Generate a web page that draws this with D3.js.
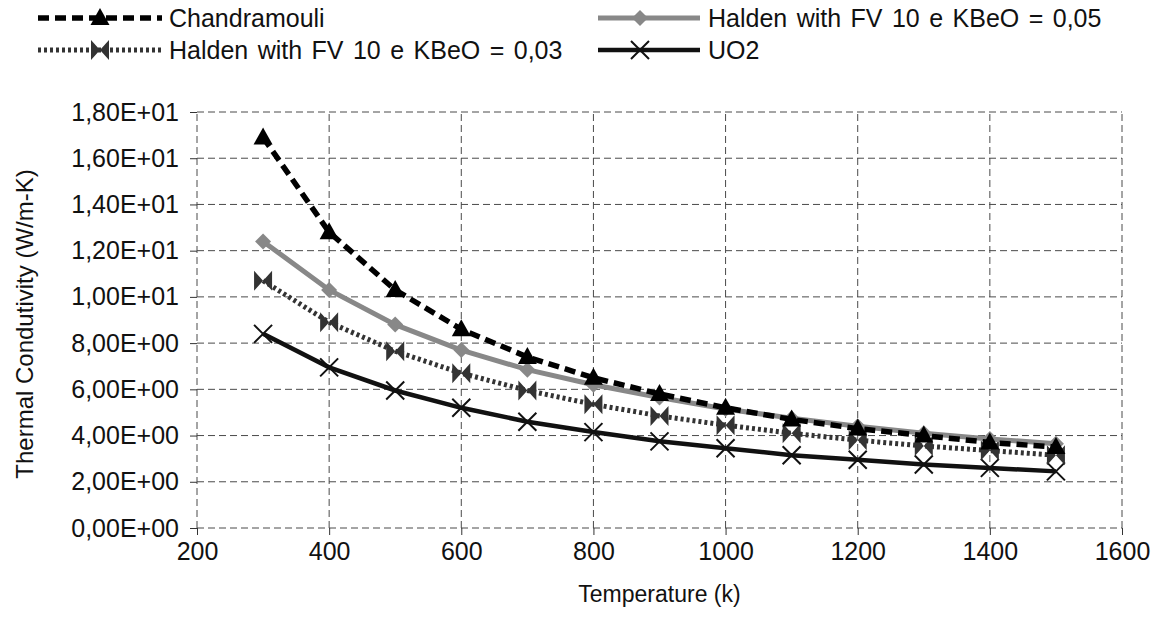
<!DOCTYPE html>
<html>
<head>
<meta charset="utf-8">
<script src="https://cdn.jsdelivr.net/npm/d3@7"></script>
<style>
  body { margin: 0; background: #fff; }
  svg text { font-family: "Liberation Sans", Arial, sans-serif; fill: #111; }
</style>
</head>
<body>
<svg id="chart" width="1160" height="628"></svg>
<script>
// Data
const temperatures = [300, 400, 500, 600, 700, 800, 900, 1000, 1100, 1200, 1300, 1400, 1500];
const chandramouli = [16.9, 12.8, 10.3, 8.6, 7.4, 6.5, 5.8, 5.2, 4.7, 4.3, 4.0, 3.7, 3.5];
const halden005 = [12.4, 10.3, 8.8, 7.7, 6.85, 6.2, 5.65, 5.15, 4.75, 4.4, 4.1, 3.85, 3.65];
const halden003 = [10.7, 8.9, 7.65, 6.7, 5.95, 5.35, 4.85, 4.45, 4.1, 3.8, 3.55, 3.35, 3.15];
const uo2 = [8.4, 6.95, 5.95, 5.2, 4.6, 4.15, 3.75, 3.45, 3.15, 2.95, 2.75, 2.6, 2.45];
const xTicks = [200, 400, 600, 800, 1000, 1200, 1400, 1600];
const yTicks = [0, 2, 4, 6, 8, 10, 12, 14, 16, 18];
const yTickLabels = ['0,00E+00', '2,00E+00', '4,00E+00', '6,00E+00', '8,00E+00',
  '1,00E+01', '1,20E+01', '1,40E+01', '1,60E+01', '1,80E+01'];

const series = [
  { name: 'Chandramouli', values: chandramouli, color: '#000', dash: '11,6', width: 5.5, marker: 'triangle' },
  { name: 'Halden with FV 10 e KBeO = 0,05', values: halden005, color: '#888', dash: null, width: 5, marker: 'diamond' },
  { name: 'Halden with FV 10 e KBeO = 0,03', values: halden003, color: '#333', dash: '3,3', width: 5, marker: 'bowtie' },
  { name: 'UO2', values: uo2, color: '#111', dash: null, width: 4.5, marker: 'cross' },
];

const FONT = '25px';
const svg = d3.select('#chart');
const x = d3.scaleLinear().domain([200, 1600]).range([197, 1122]);
const y = d3.scaleLinear().domain([0, 18]).range([528, 112]);

// grid (dashed, also forms the plot frame)
const grid = svg.append('g');
grid.selectAll('line.h').data(yTicks).join('line')
  .attr('x1', x(200)).attr('x2', x(1600))
  .attr('y1', d => y(d)).attr('y2', d => y(d))
  .style('stroke', '#4a4a4a').style('stroke-width', 1).style('stroke-dasharray', '7,4');
grid.selectAll('line.v').data(xTicks).join('line')
  .attr('x1', d => x(d)).attr('x2', d => x(d))
  .attr('y1', y(0)).attr('y2', y(18))
  .style('stroke', '#4a4a4a').style('stroke-width', 1).style('stroke-dasharray', '7,4');

// axes
const yAxis = svg.append('g').attr('transform', `translate(${x(200)},0)`)
  .call(d3.axisLeft(y).tickValues(yTicks).tickSize(7).tickPadding(11)
    .tickFormat((d, i) => yTickLabels[i]));
yAxis.select('.domain').remove();
yAxis.selectAll('text').style('font-size', FONT);
yAxis.selectAll('line').style('stroke', '#333');

const xAxis = svg.append('g').attr('transform', `translate(0,${y(0)})`)
  .call(d3.axisBottom(x).tickValues(xTicks).tickSize(7).tickPadding(7).tickFormat(d3.format('d')));
xAxis.select('.domain').remove();
xAxis.selectAll('text').style('font-size', FONT);
xAxis.selectAll('line').style('stroke', '#333');

svg.append('text')
  .attr('transform', `translate(24,${(y(0) + y(18)) / 2 + 4}) rotate(-90)`)
  .attr('text-anchor', 'middle').attr('dominant-baseline', 'central')
  .style('font-size', '24px')
  .text('Thermal Condutivity (W/m-K)');

svg.append('text')
  .attr('x', (x(200) + x(1600)) / 2).attr('y', 602)
  .attr('text-anchor', 'middle')
  .style('font-size', '23px')
  .text('Temperature (k)');

function markerPath(type) {
  if (type === 'triangle') return 'M0,-10L9.5,7L-9.5,7Z';
  if (type === 'diamond') return 'M0,-8L8,0L0,8L-8,0Z';
  if (type === 'bowtie') return 'M-9,-10L0,0L-9,10Z M9,-10L0,0L9,10Z';
  return 'M-9,-9L9,9M9,-9L-9,9';
}

function drawMarker(g, type, color, cx, cy) {
  const p = g.append('path').attr('d', markerPath(type)).attr('transform', `translate(${cx},${cy})`);
  if (type === 'cross') p.style('fill', 'none').style('stroke', color).style('stroke-width', 2);
  else p.style('fill', color).style('stroke', 'none');
}

const line = d3.line().x(d => x(d[0])).y(d => y(d[1]));

// draw bottom-up so Chandramouli ends on top
[...series].reverse().forEach(s => {
  const pts = temperatures.map((t, i) => [t, s.values[i]]);
  const g = svg.append('g');
  g.append('path').datum(pts).attr('d', line)
    .style('fill', 'none').style('stroke', s.color).style('stroke-width', s.width)
    .style('stroke-dasharray', s.dash);
  pts.forEach(p => drawMarker(g, s.marker, s.color, x(p[0]), y(p[1])));
});

// legend
const legendPos = [
  { x0: 38, x1: 162, mx: 100, tx: 169, y: 18 },
  { x0: 598, x1: 700, mx: 640, tx: 708, y: 18 },
  { x0: 38, x1: 162, mx: 100, tx: 169, y: 50 },
  { x0: 598, x1: 700, mx: 640, tx: 708, y: 50 },
];
series.forEach((s, i) => {
  const lp = legendPos[i];
  const g = svg.append('g');
  g.append('line').attr('x1', lp.x0).attr('x2', lp.x1).attr('y1', lp.y).attr('y2', lp.y)
    .style('stroke', s.color).style('stroke-width', s.width).style('stroke-dasharray', s.dash);
  drawMarker(g, s.marker, s.color, lp.mx, lp.y);
  g.append('text').attr('x', lp.tx).attr('y', lp.y).attr('dominant-baseline', 'central')
    .style('font-size', FONT).style('word-spacing', '2.5px').text(s.name);
});
</script>
</body>
</html>
